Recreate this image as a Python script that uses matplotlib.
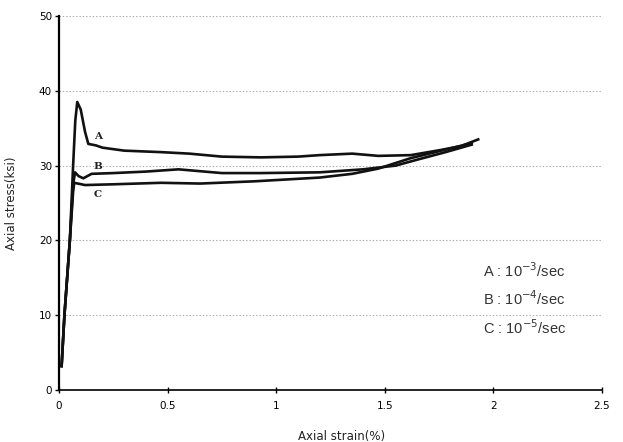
import matplotlib
matplotlib.use("Agg")
import matplotlib.pyplot as plt
from matplotlib.ticker import FuncFormatter

# Data
strain_A = [0.012, 0.025, 0.05, 0.065, 0.075, 0.084, 0.10, 0.12, 0.135, 0.17, 0.20, 0.30, 0.47, 0.60, 0.75, 0.93, 1.10, 1.20, 1.35, 1.47, 1.62, 1.76, 1.85, 1.93]
stress_A = [3.2, 10.0, 20.0, 30.0, 36.0, 38.5, 37.5, 34.5, 32.9, 32.7, 32.4, 32.0, 31.8, 31.6, 31.2, 31.1, 31.2, 31.4, 31.6, 31.3, 31.4, 32.1, 32.6, 33.5]

strain_B = [0.012, 0.025, 0.05, 0.065, 0.074, 0.09, 0.112, 0.15, 0.25, 0.40, 0.55, 0.75, 0.93, 1.20, 1.40, 1.55, 1.65, 1.78, 1.90]
stress_B = [3.2, 10.0, 20.0, 27.5, 29.1, 28.6, 28.3, 28.9, 29.0, 29.2, 29.5, 29.0, 29.0, 29.1, 29.5, 30.0, 30.8, 31.8, 32.8]

strain_C = [0.012, 0.025, 0.05, 0.065, 0.07, 0.12, 0.25, 0.47, 0.65, 0.90, 1.20, 1.35, 1.47, 1.62, 1.76, 1.90]
stress_C = [3.2, 10.0, 20.0, 26.5, 27.7, 27.4, 27.5, 27.7, 27.6, 27.9, 28.4, 28.9, 29.6, 31.0, 32.0, 33.0]

curve_labels = ["A", "B", "C"]
curve_label_x = [0.18, 0.18, 0.18]
curve_label_y = [33.9, 29.9, 26.1]

legend_lines = ["A : 10$^{-3}$/sec", "B : 10$^{-4}$/sec", "C : 10$^{-5}$/sec"]

x_ticks = [0, 0.5, 1, 1.5, 2, 2.5]
y_ticks = [0, 10, 20, 30, 40, 50]

fig = plt.figure(figsize=(6.23, 4.42), dpi=100)
ax = fig.add_axes([59/623, 52/442, 543/623, 374/442])

for xs, ys in [(strain_A, stress_A), (strain_B, stress_B), (strain_C, stress_C)]:
    ax.plot(xs, ys, color="#111111", lw=1.9, solid_joinstyle="round", zorder=3)

for lab, lx, ly in zip(curve_labels, curve_label_x, curve_label_y):
    ax.text(lx, ly, lab, fontsize=7.5, fontweight="bold", family="DejaVu Serif",
            ha="center", va="center", color="#222222", zorder=4)

for i, t in enumerate(legend_lines):
    ax.text(1.95, 16.0 - i * 3.8, t, fontsize=10.5, family="Liberation Sans",
            ha="left", va="center", color="#333333")

ax.set_xlim(0, 2.5)
ax.set_ylim(0, 50)
ax.set_xticks(x_ticks)
ax.set_yticks(y_ticks)
ax.xaxis.set_major_formatter(FuncFormatter(lambda v, p: f"{v:g}"))
ax.yaxis.set_major_formatter(FuncFormatter(lambda v, p: f"{v:g}"))

for y in y_ticks[1:]:
    ax.axhline(y, color="#aaaaaa", lw=0.8, ls=(0, (1.2, 1.8)), zorder=1)

for s in ["top", "right"]:
    ax.spines[s].set_visible(False)
ax.spines["left"].set_linewidth(1.6)
ax.spines["bottom"].set_linewidth(1.2)
ax.tick_params(axis="y", direction="out", length=3, width=1, labelsize=7.5, pad=2)
ax.tick_params(axis="x", direction="inout", length=4, width=1, labelsize=7.5, pad=6)

ax.set_ylabel("Axial stress(ksi)", fontsize=8.5, color="#222222")
ax.yaxis.set_label_coords(-0.075, 0.5)
ax.set_xlabel("Axial strain(%)", fontsize=8.5, color="#222222", va="top")
ax.xaxis.set_label_coords(0.52, -0.108)

fig.savefig("out.png", dpi=100)
